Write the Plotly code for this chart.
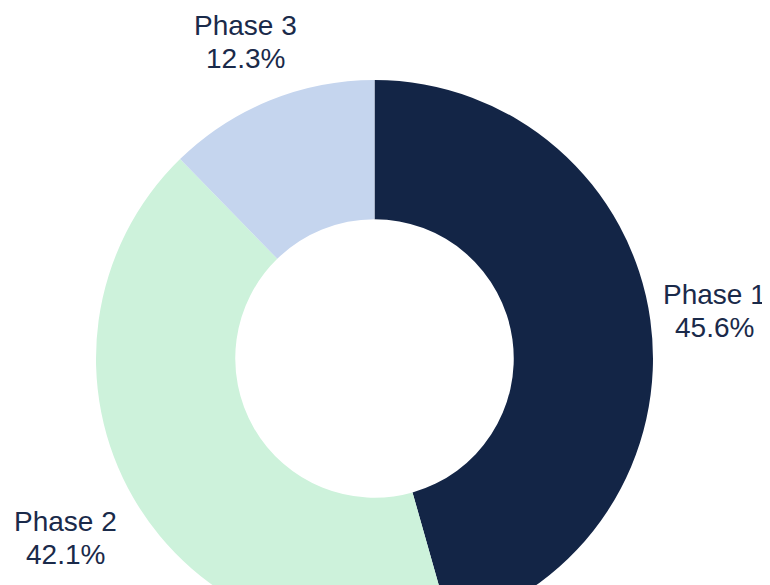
import math
import plotly.graph_objects as go

labels = ["Phase 1", "Phase 2", "Phase 3"]
values = [45.6, 42.1, 12.3]
colors = ["#132546", "#cdf2db", "#c5d5ee"]

# layout geometry (pixels, relative to the figure; page body adds an 8px margin)
W, H = 770, 716
CX, CY, R = 366.5, 350.5, 278.5
FONT = dict(family="Liberation Sans, Arial, Helvetica, sans-serif", size=28, color="#1a2a4a")
LINE_GAP = 33
BOX_HALF_W, BOX_HALF_H, DIAG, PAD = 45, 23, 38, 12

fig = go.Figure(go.Pie(
    labels=labels,
    values=values,
    hole=0.5,
    sort=False,
    direction="clockwise",
    rotation=0,
    marker=dict(colors=colors, line=dict(width=0)),
    textinfo="none",
    showlegend=False,
    hoverinfo="label+percent",
    domain=dict(x=[(CX - R) / W, (CX + R) / W],
                y=[(H - CY - R) / H, (H - CY + R) / H]),
))

total = sum(values)
cum = 0.0
annotations = []
for lab, v in zip(labels, values):
    mid = (cum + v / 2) / total * 2 * math.pi
    cum += v
    s, c = math.sin(mid), math.cos(mid)
    rl = R + PAD + abs(s) * BOX_HALF_W + abs(c) * BOX_HALF_H + abs(s * c) * DIAG
    px = CX + rl * s
    py = CY - rl * c
    pct = f"{v / total * 100:.1f}%"
    for txt, shift in ((lab, LINE_GAP / 2), (pct, -LINE_GAP / 2)):
        annotations.append(dict(
            x=px / W, y=1 - py / H, xref="paper", yref="paper",
            text=txt, showarrow=False, xanchor="center", yanchor="middle",
            yshift=shift, font=FONT,
        ))

fig.update_layout(
    width=W,
    height=H,
    margin=dict(l=0, r=0, t=0, b=0),
    paper_bgcolor="white",
    plot_bgcolor="white",
    annotations=annotations,
)
fig.write_html("out.html")
